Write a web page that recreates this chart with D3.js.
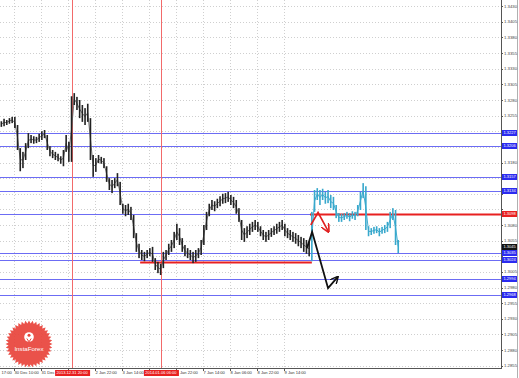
<!DOCTYPE html>
<html><head><meta charset="utf-8">
<script src="https://cdn.jsdelivr.net/npm/d3@7"></script>
<style>body{margin:0;background:#fff}svg{display:block}</style>
</head><body>
<script>
// ---- data ----
const barHigh = [1.3246,1.3250,1.3248,1.3251,1.3253,1.3253,1.3240,1.3203,1.3197,1.3211,
1.3227,1.3224,1.3222,1.3221,1.3226,1.3230,1.3232,1.3224,1.3206,1.3200,
1.3197,1.3194,1.3190,1.3200,1.3224,1.3213,1.3286,1.3291,1.3285,1.3280,
1.3272,1.3267,1.3274,1.3251,1.3192,1.3187,1.3192,1.3189,1.3187,1.3174,
1.3155,1.3152,1.3155,1.3163,1.3149,1.3114,1.3112,1.3114,1.3109,1.3096,
1.3067,1.3050,1.3040,1.3037,1.3040,1.3043,1.3045,1.3027,1.3021,1.3018,
1.3037,1.3040,1.3050,1.3056,1.3069,1.3082,1.3075,1.3059,1.3048,1.3043,
1.3040,1.3037,1.3040,1.3043,1.3056,1.3080,1.3101,1.3114,1.3120,1.3118,
1.3122,1.3126,1.3130,1.3131,1.3133,1.3128,1.3125,1.3120,1.3107,1.3088,
1.3075,1.3078,1.3082,1.3085,1.3088,1.3085,1.3078,1.3072,1.3069,1.3072,
1.3075,1.3078,1.3082,1.3085,1.3088,1.3082,1.3075,1.3072,1.3069,1.3067,
1.3064,1.3061,1.3059,1.3056,1.3053,
1.3101,1.3136,1.3139,1.3136,1.3138,1.3133,1.3136,1.3128,1.3125,1.3112,
1.3099,1.3098,1.3099,1.3101,1.3099,1.3102,1.3101,1.3112,1.3133,1.3147,
1.3142,1.3078,1.3075,1.3077,1.3078,1.3075,1.3077,1.3080,1.3085,1.3101,
1.3107,1.3104,1.3056];
const barLow = [1.3237,1.3238,1.3240,1.3242,1.3243,1.3235,1.3200,1.3166,1.3171,1.3184,
1.3203,1.3211,1.3210,1.3211,1.3213,1.3216,1.3219,1.3200,1.3190,1.3187,
1.3184,1.3182,1.3178,1.3174,1.3197,1.3181,1.3181,1.3272,1.3264,1.3251,
1.3245,1.3240,1.3245,1.3184,1.3157,1.3165,1.3179,1.3178,1.3171,1.3149,
1.3136,1.3131,1.3139,1.3142,1.3112,1.3098,1.3094,1.3096,1.3088,1.3059,
1.3037,1.3027,1.3024,1.3022,1.3027,1.3030,1.3021,1.3008,1.3003,1.3000,
1.3011,1.3024,1.3032,1.3037,1.3043,1.3056,1.3048,1.3037,1.3030,1.3027,
1.3024,1.3019,1.3021,1.3027,1.3032,1.3048,1.3072,1.3094,1.3104,1.3102,
1.3107,1.3110,1.3114,1.3115,1.3117,1.3112,1.3107,1.3098,1.3085,1.3056,
1.3053,1.3059,1.3064,1.3069,1.3072,1.3069,1.3062,1.3056,1.3053,1.3056,
1.3061,1.3064,1.3066,1.3069,1.3072,1.3062,1.3059,1.3056,1.3053,1.3050,
1.3046,1.3043,1.3037,1.3034,1.3030,
1.3022,1.3101,1.3120,1.3112,1.3120,1.3114,1.3115,1.3107,1.3104,1.3091,
1.3085,1.3085,1.3088,1.3090,1.3086,1.3090,1.3088,1.3094,1.3104,1.3123,
1.3072,1.3062,1.3064,1.3066,1.3067,1.3062,1.3066,1.3067,1.3069,1.3075,
1.3088,1.3048,1.3035];
const laterStart = 115; // bars from here drawn in the second (cyan) colour

const priceTicks = [1.3430,1.3405,1.3380,1.3355,1.3330,1.3305,1.3280,1.3255,1.3230,1.3205,
1.3180,1.3155,1.3130,1.3105,1.3080,1.3055,1.3030,1.3005,1.2980,1.2955,1.2930,1.2905,1.2880,1.2855];
const timeTickIdx = [0, 4.5, 14.5, 24.5, 34.5, 44.5, 54.5, 64.5, 74.5, 84.5, 94.5, 104.5];
const timeTickLabels = ["17:00","30 Dec 10:00","31 Dec","","2 Jan 22:00","3 Jan 14:00",
  "","6 Jan 22:00","7 Jan 14:00","8 Jan 06:00","8 Jan 22:00","9 Jan 14:00"];
const eventIdx = [26.2, 59.1];
const eventLabels = ["2013.12.31 20:00","2014.01.06 06:00"];

const blueLevels = [1.3227,1.3206,1.3157,1.3134,1.3098,1.3035,1.3024,1.2994,1.2968];
const redLevel = {price:1.3098, from:114.3};
const supportLevel = {price:1.3021, from:51.4, to:115.0};
const lastPrice = 1.3045;

const blackArrow = [[113.2,1.3043],[115.1,1.3069],[121.0,1.2979],[124.6,1.2997]];
const redArrow = [[114.6,1.3080],[117.3,1.3100],[121.2,1.3069]];

// ---- layout ----
const W = 519, H = 378, plotR = 501, plotB = 368, pxPerBar = 2.7;
const svg = d3.select("body").append("svg").attr("width", W).attr("height", H)
  .style("font-family","'Liberation Sans', Arial, sans-serif");
svg.append("rect").attr("width",W).attr("height",H).attr("fill","#fff");

const x = d3.scaleLinear().domain([-0.5, -0.5 + plotR/pxPerBar]).range([0, plotR]);
const y = d3.scaleLinear().domain([1.3440 - 0.00016*plotB, 1.3440]).range([plotB, 0]);

const defs = svg.append("defs");
defs.append("clipPath").attr("id","plot").append("rect").attr("width",plotR).attr("height",plotB);
const g = svg.append("g").attr("clip-path","url(#plot)");

// grid
g.selectAll(".hg").data(priceTicks).join("line")
  .attr("x1",0).attr("x2",plotR).attr("y1",d=>Math.round(y(d))+0.5).attr("y2",d=>Math.round(y(d))+0.5)
  .attr("stroke","#cfcfcf").attr("stroke-dasharray","1,2");
g.selectAll(".vg").data(timeTickIdx.slice(1)).join("line")
  .attr("y1",0).attr("y2",plotB).attr("x1",d=>Math.round(x(d))+0.5).attr("x2",d=>Math.round(x(d))+0.5)
  .attr("stroke","#cfcfcf").attr("stroke-dasharray","1,2");

// level lines
g.selectAll(".lv").data(blueLevels).join("line")
  .attr("x1",0).attr("x2",plotR).attr("y1",d=>Math.round(y(d))+0.5).attr("y2",d=>Math.round(y(d))+0.5)
  .attr("stroke","#6c6cf4").attr("stroke-width",1);

// vertical event lines
g.selectAll(".ev").data(eventIdx).join("line")
  .attr("y1",0).attr("y2",plotB).attr("x1",d=>Math.round(x(d))+0.5).attr("x2",d=>Math.round(x(d))+0.5)
  .attr("stroke","#f26a6a").attr("stroke-width",1);

g.append("line").attr("x1",x(redLevel.from)).attr("x2",plotR)
  .attr("y1",Math.round(y(redLevel.price))+0.5).attr("y2",Math.round(y(redLevel.price))+0.5)
  .attr("stroke","#e82020").attr("stroke-width",2);
g.append("line").attr("x1",x(supportLevel.from)).attr("x2",x(supportLevel.to))
  .attr("y1",Math.round(y(supportLevel.price))+0.5).attr("y2",Math.round(y(supportLevel.price))+0.5)
  .attr("stroke","#e82020").attr("stroke-width",2);

// bars
const bars = barHigh.map((h,i)=>({i, h, l: barLow[i]}));
g.selectAll(".bar2").data(bars.slice(1)).join("line")
  .attr("x1", d=>x(d.i-1)).attr("x2", d=>x(d.i))
  .attr("y1", d=>y((barHigh[d.i-1]+barLow[d.i-1])/2)).attr("y2", d=>y((d.h+d.l)/2))
  .attr("stroke", d=> d.i>laterStart ? "#44aed0" : (d.i===laterStart ? "none" : "#777"))
  .attr("stroke-width",1);
g.selectAll(".bar").data(bars).join("rect")
  .attr("x", d=>x(d.i)-0.8).attr("width",1.6)
  .attr("y", d=>y(d.h)).attr("height", d=>Math.max(1, y(d.l)-y(d.h)))
  .attr("fill", d=> d.i>=laterStart ? "#38a8cc" : "#222");

// arrows
function marker(id, color, size){
  defs.append("marker").attr("id",id).attr("viewBox","0 0 10 10").attr("refX",9).attr("refY",5)
    .attr("markerWidth",size).attr("markerHeight",size).attr("orient","auto").attr("markerUnits","userSpaceOnUse")
    .append("path").attr("d","M0,0 L10,5 L0,10").attr("fill","none").attr("stroke",color).attr("stroke-width",1.8);
}
marker("mb","#111",8); marker("mr","#e02020",9);
const line = d3.line().x(d=>x(d[0])).y(d=>y(d[1]));
g.append("path").attr("d",line(blackArrow)).attr("fill","none").attr("stroke","#111")
  .attr("stroke-width",1.8).attr("marker-end","url(#mb)");
g.append("path").attr("d",line(redArrow)).attr("fill","none").attr("stroke","#e02020")
  .attr("stroke-width",1.6).attr("marker-end","url(#mr)");

// axes lines
svg.append("line").attr("x1",plotR+0.5).attr("x2",plotR+0.5).attr("y1",0).attr("y2",plotB+1)
  .attr("stroke","#555");
svg.append("line").attr("x1",0).attr("x2",plotR+1).attr("y1",plotB+0.5).attr("y2",plotB+0.5)
  .attr("stroke","#555");
svg.append("line").attr("x1",W-1.5).attr("x2",W-1.5).attr("y1",0).attr("y2",H)
  .attr("stroke","#b0b0b0");

// price tick labels (hidden where a highlighted box covers them)
const fs = 4.3;
const boxes = blueLevels.concat([lastPrice]);
const visTicks = priceTicks.filter(t => !boxes.some(b => Math.abs(y(b)-y(t)) < 6));
svg.selectAll(".pt").data(visTicks).join("text")
  .attr("x",plotR+3).attr("y",d=>y(d)).attr("dy","0.35em")
  .attr("font-size",fs).attr("fill","#444").text(d=>d.toFixed(4));
svg.selectAll(".ptk").data(priceTicks).join("line")
  .attr("x1",plotR).attr("x2",plotR+2).attr("y1",d=>Math.round(y(d))+0.5).attr("y2",d=>Math.round(y(d))+0.5)
  .attr("stroke","#555");

// highlighted price boxes
function priceBox(p, fill, dy){
  const yy = Math.round(y(p)) + (dy||0);
  svg.append("rect").attr("x",plotR+1).attr("y",yy-3).attr("width",15).attr("height",6).attr("fill",fill);
  svg.append("text").attr("x",plotR+2.5).attr("y",yy).attr("dy","0.35em").attr("font-size",fs-0.3)
    .attr("fill","#fff").text(p.toFixed(4));
}
blueLevels.forEach(p=>{ if(p!==redLevel.price) priceBox(p,"#2b2bf0"); });
priceBox(redLevel.price,"#e82020");
priceBox(lastPrice,"#111");

// time labels
const tl = timeTickIdx.map((d,i)=>({d, t: timeTickLabels[i], i})).filter(o=>o.t);
svg.selectAll(".tt").data(tl).join("text")
  .attr("x",o=> o.i===0 ? 1.5 : x(o.d)+1).attr("y",plotB+5.5)
  .attr("font-size",fs-0.2).attr("fill","#333").text(o=>o.t);
svg.selectAll(".ttk").data(timeTickIdx.slice(1)).join("line")
  .attr("x1",d=>Math.round(x(d))+0.5).attr("x2",d=>Math.round(x(d))+0.5).attr("y1",plotB).attr("y2",plotB+3)
  .attr("stroke","#555");
eventIdx.forEach((d,i)=>{
  const cx = x(d);
  svg.append("rect").attr("x",cx-17).attr("y",plotB+2).attr("width",35).attr("height",6).attr("fill","#e82020");
  svg.append("text").attr("x",cx).attr("y",plotB+5.5).attr("text-anchor","middle")
    .attr("font-size",fs-0.3).attr("fill","#fff").text(eventLabels[i]);
});

// logo
const lg = svg.append("g").attr("transform","translate(29,344)");
const pts = d3.range(80).map(k=>{
  const a = k/80*2*Math.PI, r = k%2 ? 20.5 : 23.5;
  return [r*Math.sin(a), -r*Math.cos(a)];
});
lg.append("polygon").attr("points",pts.map(p=>p.join(",")).join(" ")).attr("fill","#e8453c").attr("opacity",0.93);
lg.append("circle").attr("cy",-7).attr("r",4.8).attr("fill","#fff");
lg.append("circle").attr("cy",-8.8).attr("r",1.5).attr("fill","#e8453c");
lg.append("path").attr("d","M-2.2,-5.5 L0,-2.2 L2.2,-5.5").attr("stroke","#e8453c").attr("fill","none").attr("stroke-width",1);
lg.append("text").attr("y",6.5).attr("text-anchor","middle").attr("font-size",6.2).attr("fill","#fff").text("InstaForex");
</script>
</body></html>
